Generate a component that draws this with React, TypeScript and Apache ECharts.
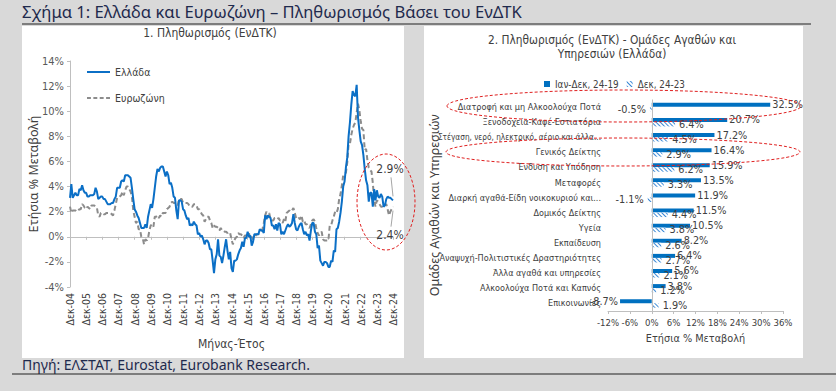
import React, { useEffect, useRef } from 'react';
import * as echarts from 'echarts';

const monthNames = ['Ιαν', 'Φεβ', 'Μαρ', 'Απρ', 'Μαϊ', 'Ιουν', 'Ιουλ', 'Αυγ', 'Σεπ', 'Οκτ', 'Νοε', 'Δεκ'];
const firstYear = 5;
const lastYear = 24;
const monthLabels: string[] = ['Δεκ-04'];
for (let y = firstYear; y <= lastYear; y++) {
  for (const m of monthNames) monthLabels.push(`${m}-${String(y).padStart(2, '0')}`);
}

// Greece HICP, annual % change, Dec-04 .. Dec-24
const greece = [
  3.1,
  4.2, 3.1, 3.3, 3.5, 3.3, 3.3, 3.8, 3.7, 4.1, 3.7, 3.5, 3.5,
  3.2, 3.2, 3.3, 3.3, 3.3, 3.4, 3.9, 3.6, 3.0, 3.1, 3.2, 3.2,
  3.0, 3.0, 2.8, 2.6, 2.6, 2.6, 2.7, 2.7, 3.0, 3.2, 3.9, 3.9,
  3.9, 4.4, 4.5, 4.4, 4.9, 4.9, 4.9, 4.8, 4.7, 3.9, 3.0, 2.2,
  2.0, 1.7, 1.5, 1.1, 0.7, 0.7, 0.7, 1.0, 0.7, 1.6, 2.1, 2.6,
  2.3, 3.0, 3.9, 4.8, 5.4, 5.2, 5.5, 5.6, 5.6, 5.2, 4.8, 5.2,
  4.9, 4.2, 4.3, 3.9, 3.2, 3.1, 2.1, 1.4, 2.9, 2.9, 2.8, 2.2,
  2.1, 1.7, 1.4, 1.5, 0.9, 1.0, 0.9, 1.2, 1.0, 0.9, 0.2, 0.3,
  0.0, 0.1, -0.2, -0.6, -0.3, -0.3, -0.5, -1.0, -1.0, -1.9, -2.9, -1.8,
  -1.4, -0.2, -1.5, -1.6, -2.1, -1.5, -0.8, -0.2, -1.1, -1.8, -1.2, -2.5,
  -2.8, -1.9, -1.9, -1.8, -1.4, -1.1, -0.9, -0.4, -0.8, -0.1, -0.1, 0.4,
  0.0, 0.1, -0.7, -0.4, 0.2, 0.2, 0.2, 0.2, 0.6, 0.5, 0.5, 0.3,
  1.7, 1.4, 1.7, 1.6, 1.5, 0.9, 0.9, 0.6, 1.0, 0.5, 1.1, 1.0,
  0.2, 0.4, 0.2, 0.5, 0.8, 1.0, 0.8, 0.9, 1.1, 1.8, 1.1, 0.6,
  0.5, 0.8, 1.0, 1.1, 0.6, 0.2, 0.4, 0.1, 0.2, -0.3, 0.5, 1.1,
  1.1, 0.4, 0.2, -0.9, -0.7, -1.9, -2.1, -2.3, -2.0, -2.0, -2.1, -2.4,
  -2.4, -1.9, -2.0, -1.1, -1.2, 0.6, 0.7, 1.2, 1.9, 2.8, 4.0, 4.4,
  5.5, 6.3, 8.0, 9.1, 10.5, 11.6, 11.3, 11.2, 12.1, 9.5, 8.5, 7.6,
  7.3, 6.5, 5.4, 4.5, 4.1, 2.8, 3.5, 3.5, 2.4, 3.8, 2.9, 3.7,
  3.2, 3.1, 3.4, 3.2, 2.4, 2.5, 3.0, 3.2, 3.1, 3.1, 3.0, 2.9,
];

// Euro area HICP, annual % change, Dec-04 .. Dec-24
const eurozone = [
  2.4,
  1.9, 2.1, 2.1, 2.1, 2.0, 2.1, 2.2, 2.2, 2.6, 2.5, 2.3, 2.2,
  2.4, 2.3, 2.2, 2.5, 2.5, 2.5, 2.4, 2.3, 1.7, 1.6, 1.9, 1.9,
  1.8, 1.8, 1.9, 1.9, 1.9, 1.9, 1.8, 1.7, 2.1, 2.6, 3.1, 3.1,
  3.2, 3.3, 3.6, 3.3, 3.7, 4.0, 4.0, 3.8, 3.6, 3.2, 2.1, 1.6,
  1.1, 1.2, 0.6, 0.6, 0.0, -0.1, -0.6, -0.2, -0.3, -0.1, 0.5, 0.9,
  1.0, 0.8, 1.6, 1.6, 1.7, 1.5, 1.7, 1.6, 1.9, 1.9, 1.9, 2.2,
  2.3, 2.4, 2.7, 2.8, 2.7, 2.7, 2.6, 2.5, 3.0, 3.0, 3.0, 2.7,
  2.7, 2.7, 2.7, 2.6, 2.4, 2.4, 2.4, 2.6, 2.6, 2.5, 2.2, 2.2,
  2.0, 1.8, 1.7, 1.2, 1.4, 1.6, 1.6, 1.3, 1.1, 0.7, 0.9, 0.8,
  0.8, 0.7, 0.5, 0.7, 0.5, 0.5, 0.4, 0.4, 0.3, 0.4, 0.3, -0.2,
  -0.6, -0.3, -0.1, 0.0, 0.3, 0.2, 0.2, 0.1, -0.1, 0.1, 0.1, 0.2,
  0.3, -0.2, 0.0, -0.2, -0.1, 0.1, 0.2, 0.2, 0.4, 0.5, 0.6, 1.1,
  1.7, 2.0, 1.5, 1.9, 1.4, 1.3, 1.3, 1.5, 1.5, 1.4, 1.5, 1.3,
  1.3, 1.1, 1.4, 1.2, 1.9, 2.0, 2.1, 2.0, 2.1, 2.3, 1.9, 1.5,
  1.4, 1.5, 1.4, 1.7, 1.2, 1.3, 1.0, 1.0, 0.8, 0.7, 1.0, 1.3,
  1.4, 1.2, 0.7, 0.3, 0.1, 0.3, 0.4, -0.2, -0.3, -0.3, -0.3, -0.3,
  0.9, 0.9, 1.3, 1.6, 2.0, 1.9, 2.2, 3.0, 3.4, 4.1, 4.9, 5.0,
  5.1, 5.9, 7.4, 7.4, 8.1, 8.6, 8.9, 9.1, 9.9, 10.6, 10.1, 9.2,
  8.6, 8.5, 6.9, 7.0, 6.1, 5.5, 5.3, 5.2, 4.3, 2.9, 2.4, 2.9,
  2.8, 2.6, 2.4, 2.4, 2.6, 2.5, 2.6, 2.2, 1.7, 2.0, 2.2, 2.4,
];

const groups = [
  'Διατροφή και μη Αλκοολούχα Ποτά',
  'Ξενοδοχεία-Καφέ-Εστιατόρια',
  'Στέγαση, νερό, ηλεκτρικό, αέριο και άλλα...',
  'Γενικός Δείκτης',
  'Ένδυση και Υπόδηση',
  'Μεταφορές',
  'Διαρκή αγαθά-Είδη νοικοκυριού και...',
  'Δομικός Δείκτης',
  'Υγεία',
  'Εκπαίδευση',
  'Αναψυχή-Πολιτιστικές Δραστηριότητες',
  'Άλλα αγαθά και υπηρεσίες',
  'Αλκοολούχα Ποτά και Καπνός',
  'Επικοινωνίες',
];
const cumJanDec2419 = [32.5, 20.7, 17.2, 16.4, 15.9, 13.5, 11.9, 11.5, 10.5, 8.2, 6.4, 5.6, 3.8, -8.7];
const dec2423 = [-0.5, 6.4, 4.5, 2.9, 6.2, 3.3, -1.1, 4.4, 3.8, 2.6, 2.7, 2.1, 1.2, 1.9];

const leftTicks = { min: -4, max: 14, interval: 2 };
const rightTicks = { min: -12, max: 36, interval: 6 };

const NARROW = "'Liberation Sans Narrow', 'DejaVu Sans Condensed', 'Roboto', sans-serif";
const WIDE = "'Noto Sans', 'Open Sans', sans-serif";
const TXT = '#404040';
const AX = '#bfbfbf';
const BLUE = '#0b6fc6';
const GREY = '#8c8c8c';

export default function App() {
  const ref = useRef<HTMLDivElement>(null);
  useEffect(() => {
    if (!ref.current) return;
    const chart = echarts.init(ref.current, undefined, { renderer: 'svg' });
    const lastIdx = greece.length - 1;
    const pct = (v: number) => `${v.toFixed(1)}%`;

    const graphics: any[] = [
      { id: 'pl', type: 'rect', z: -10, shape: { x: 22, y: 26, width: 382, height: 332 }, style: { fill: '#ffffff' } },
      { id: 'pr', type: 'rect', z: -10, shape: { x: 424, y: 26, width: 379, height: 332 }, style: { fill: '#ffffff' } },
      {
        id: 'title', type: 'text', left: 22, top: 3,
        style: { text: 'Σχήμα 1: Ελλάδα και Ευρωζώνη – Πληθωρισμός Βάσει του ΕνΔΤΚ', fill: '#1f2a4d', font: `16.6px ${WIDE}` },
      },
      { id: 'tl', type: 'line', shape: { x1: 22, y1: 24, x2: 811, y2: 24 }, style: { stroke: '#222', lineWidth: 1.2 } },
      {
        id: 'src', type: 'text', left: 22, top: 357,
        style: { text: 'Πηγή: ΕΛΣΤΑΤ, Eurostat, Eurobank Research.', fill: '#1f2a4d', font: `14px ${WIDE}` },
      },
      { id: 'bl', type: 'line', shape: { x1: 12, y1: 374, x2: 836, y2: 374 }, style: { stroke: '#222', lineWidth: 1.2 } },
      {
        id: 't1', type: 'text', x: 210, y: 33,
        style: { text: '1. Πληθωρισμός (ΕνΔΤΚ)', fill: TXT, font: `12px ${NARROW}`, align: 'center', verticalAlign: 'middle' },
      },
      {
        id: 't2', type: 'text', x: 612, y: 47,
        style: {
          text: '2. Πληθωρισμός (ΕνΔΤΚ) - Ομάδες Αγαθών και\nΥπηρεσιών (Ελλάδα)',
          fill: TXT, font: `11.8px ${NARROW}`, align: 'center', verticalAlign: 'middle', lineHeight: 14,
        },
      },
      {
        id: 'e1', type: 'ellipse', z: 100, shape: { cx: 386, cy: 202, rx: 29, ry: 48 },
        style: { fill: 'none', stroke: '#e02020', lineWidth: 1, lineDash: [3, 2] },
      },
      {
        id: 'e2', type: 'ellipse', z: 100, shape: { cx: 624, cy: 106, rx: 177, ry: 16 },
        style: { fill: 'none', stroke: '#e02020', lineWidth: 1, lineDash: [3, 2] },
      },
      {
        id: 'e3', type: 'ellipse', z: 100, shape: { cx: 623, cy: 152, rx: 177, ry: 14 },
        style: { fill: 'none', stroke: '#e02020', lineWidth: 1, lineDash: [3, 2] },
      },
    ];

    // the longest group name is drawn a little smaller so that it fits the panel
    const groupData = groups.map((g) => (g.length > 40 ? { value: g, textStyle: { fontSize: 8.2 } } : g));

    const option: any = {
      animation: false,
      backgroundColor: '#d9d9d9',
      textStyle: { fontFamily: NARROW },
      graphic: graphics,
      legend: [
        {
          orient: 'vertical', left: 82, top: 60, itemWidth: 23, itemHeight: 2, itemGap: 12,
          data: [
            { name: 'Ελλάδα', icon: 'rect', itemStyle: { color: BLUE } },
            {
              name: 'Ευρωζώνη',
              icon: 'path://M0,0h4v2h-4z M6.5,0h4v2h-4z M13,0h4v2h-4z M19.5,0h4v2h-4z',
              itemStyle: { color: GREY },
            },
          ],
          textStyle: { fontSize: 10.5, color: TXT, fontFamily: NARROW, height: 14, lineHeight: 14 },
        },
        {
          orient: 'horizontal', left: 539, top: 74, itemWidth: 6, itemHeight: 6, itemGap: 8, icon: 'rect',
          data: ['Ιαν-Δεκ, 24-19', 'Δεκ, 24-23'],
          textStyle: { fontSize: 9.8, color: TXT, fontFamily: NARROW },
        },
      ],
      grid: [
        { left: 70, right: 443, top: 61, bottom: 104, outerBoundsMode: 'none' },
        { left: 608, right: 53, top: 99.5, bottom: 80, outerBoundsMode: 'none' },
      ],
      xAxis: [
        {
          type: 'category', gridIndex: 0, data: monthLabels, boundaryGap: false, position: 'bottom',
          axisLine: { show: false, onZero: false }, axisTick: { show: false },
          axisLabel: { interval: 11, rotate: 90, fontSize: 10.5, color: TXT, margin: 6 },
          name: 'Μήνας-Έτος', nameLocation: 'middle', nameGap: 51, nameMoveOverlap: false,
          nameTextStyle: { fontSize: 12, color: TXT },
        },
        {
          type: 'category', gridIndex: 0, data: monthLabels, boundaryGap: false, position: 'top',
          axisLine: { show: true, onZero: true, lineStyle: { color: AX } },
          axisTick: { show: true, inside: true, interval: 11, length: 3, lineStyle: { color: AX } },
          axisLabel: { show: false },
        },
        {
          type: 'value', gridIndex: 1, position: 'bottom', ...rightTicks,
          axisLine: { show: true, onZero: false, lineStyle: { color: AX } },
          axisTick: { show: true, length: 3, lineStyle: { color: AX } },
          splitLine: { show: false },
          axisLabel: {
            formatter: '{value}%', fontSize: 9.5, color: TXT, margin: 6,
            interval: 0, showMinLabel: true, showMaxLabel: true, hideOverlap: false,
          },
          name: 'Ετήσια % Μεταβολή', nameLocation: 'middle', nameGap: 22, nameMoveOverlap: false,
          nameTextStyle: { fontSize: 10.8, color: TXT },
        },
      ],
      yAxis: [
        {
          type: 'value', gridIndex: 0, ...leftTicks,
          axisLine: { show: true, lineStyle: { color: AX } },
          axisTick: { show: true, length: 3, lineStyle: { color: AX } },
          splitLine: { show: false },
          axisLabel: { formatter: '{value}%', fontSize: 11, color: '#595959', margin: 6 },
          name: 'Ετήσια % Μεταβολή', nameLocation: 'middle', nameGap: 30, nameRotate: 90, nameMoveOverlap: false,
          nameTextStyle: { fontSize: 12.5, color: TXT, fontFamily: WIDE },
        },
        {
          type: 'category', gridIndex: 1, data: groupData, inverse: true,
          axisLine: { show: false, onZero: false }, axisTick: { show: false },
          axisLabel: { fontSize: 9, color: TXT, margin: 7, interval: 0 },
          name: 'Ομάδες Αγαθών και Υπηρεσιών', nameLocation: 'middle', nameGap: 167, nameRotate: 90,
          nameMoveOverlap: false,
          nameTextStyle: { fontSize: 12.5, color: TXT, fontFamily: WIDE },
        },
      ],
      series: [
        {
          name: 'Ελλάδα', type: 'line', xAxisIndex: 0, yAxisIndex: 0, symbol: 'none',
          data: greece,
          lineStyle: { color: BLUE, width: 2 }, itemStyle: { color: BLUE },
          z: 3,
        },
        {
          name: 'Ευρωζώνη', type: 'line', xAxisIndex: 0, yAxisIndex: 0, symbol: 'none',
          data: eurozone,
          lineStyle: { color: GREY, width: 2, type: [5, 3] }, itemStyle: { color: GREY },
          z: 2,
        },
        {
          name: 'Ιαν-Δεκ, 24-19', type: 'bar', xAxisIndex: 2, yAxisIndex: 1, barWidth: 4, barGap: '0%',
          itemStyle: { color: '#0070c0' },
          data: cumJanDec2419.map((v) => ({ value: v, label: { position: v < 0 ? 'left' : 'right' } })),
          label: { show: true, formatter: (p: any) => pct(p.value), fontSize: 10.8, color: TXT, distance: 2 },
          markLine: {
            silent: true, symbol: 'none', label: { show: false },
            lineStyle: { color: AX, type: 'solid', width: 1 },
            data: [{ xAxis: 0 }],
          },
        },
        {
          name: 'Δεκ, 24-23', type: 'bar', xAxisIndex: 2, yAxisIndex: 1, barWidth: 4.5, barGap: '0%',
          itemStyle: {
            color: '#ffffff',
            decal: { symbol: 'rect', symbolSize: 1, color: '#3d8ad6', dashArrayX: [1, 0], dashArrayY: [1, 1.5], rotation: Math.PI / 4 },
          },
          data: dec2423.map((v) => ({ value: v, label: { position: v < 0 ? 'left' : 'right' } })),
          label: { show: true, formatter: (p: any) => pct(p.value), fontSize: 10.8, color: TXT, distance: 4 },
        },
      ],
    };
    chart.setOption(option);

    // End-point callouts placed from the axis scales
    const finder = { xAxisIndex: 0, yAxisIndex: 0 };
    const pg = chart.convertToPixel(finder, [lastIdx, greece[lastIdx]]) as number[];
    const pe = chart.convertToPixel(finder, [lastIdx, eurozone[lastIdx]]) as number[];
    const callouts = [
      {
        id: 'cg', type: 'text', z: 50, x: pg[0] - 3, y: pg[1] - 31,
        style: { text: pct(greece[lastIdx]), fill: TXT, font: `12px ${NARROW}`, align: 'center', verticalAlign: 'middle' },
      },
      {
        id: 'cgl', type: 'line', z: 50, shape: { x1: pg[0] - 2, y1: pg[1] - 23, x2: pg[0], y2: pg[1] - 4 },
        style: { stroke: '#a6a6a6', lineWidth: 1 },
      },
      {
        id: 'ce', type: 'text', z: 50, x: pe[0] - 3, y: pe[1] + 28,
        style: { text: pct(eurozone[lastIdx]), fill: TXT, font: `12px ${NARROW}`, align: 'center', verticalAlign: 'middle' },
      },
      {
        id: 'cel', type: 'line', z: 50, shape: { x1: pe[0], y1: pe[1] + 4, x2: pe[0] - 2, y2: pe[1] + 20 },
        style: { stroke: '#a6a6a6', lineWidth: 1 },
      },
    ];
    chart.setOption({ graphic: graphics.concat(callouts) });
    return () => chart.dispose();
  }, []);
  return <div ref={ref} style={{ position: 'fixed', left: 0, top: 0, width: 836, height: 391 }} />;
}
